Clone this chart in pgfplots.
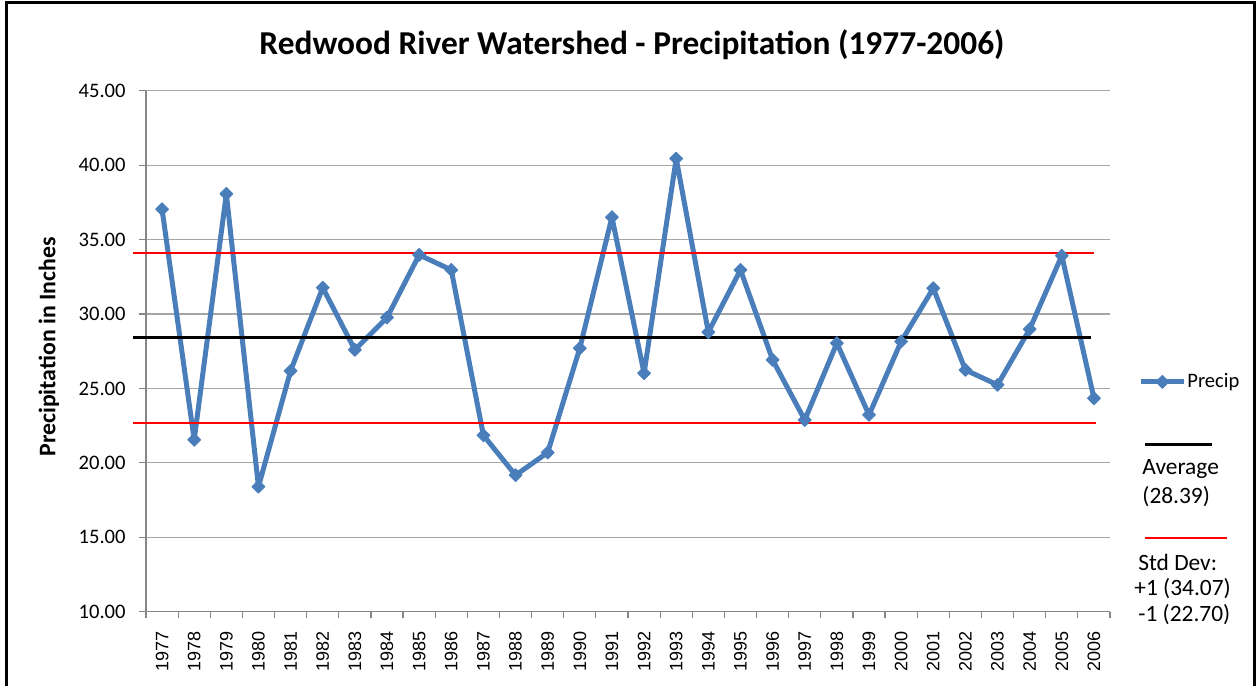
\documentclass[border=0pt]{standalone}
\usepackage{fontspec}
\setmainfont{Carlito}
\newfontfamily\arialf{Liberation Sans}
\usepackage{pgfplots}
\pgfplotsset{compat=1.18}
\definecolor{precip}{RGB}{74,126,187}
\definecolor{gridc}{RGB}{165,165,165}
\definecolor{axisc}{RGB}{134,134,134}

\begin{document}
\begin{tikzpicture}
\useasboundingbox (0,0) rectangle (628.5pt,343pt);
\begin{axis}[
  at={(73pt,37.15pt)}, anchor=south west,
  scale only axis, width=482pt, height=260.5pt,
  xmin=-0.5, xmax=29.5, ymin=10, ymax=45,
  clip=false,
  axis x line*=bottom, axis y line*=left,
  axis line style={axisc, line width=0.6pt, -},
  tick align=outside,
  ytick={10,15,...,45},
  ymajorgrids, major grid style={gridc, line width=0.6pt},
  major tick length=3.5pt, minor tick length=3pt,
  tick style={axisc, line width=0.6pt},
  every major x tick/.append style={draw=none},
  xtick={0,...,29},
  minor xtick={-0.5,0.5,...,29.5},
  xticklabels={1977,1978,1979,1980,1981,1982,1983,1984,1985,1986,1987,1988,1989,1990,1991,1992,1993,1994,1995,1996,1997,1998,1999,2000,2001,2002,2003,2004,2005,2006},
  xticklabel style={font=\arialf\fontsize{9}{10}\selectfont, rotate=90, anchor=east, xshift=-5pt, inner sep=1pt},
  yticklabel style={font=\fontsize{10.3}{12}\selectfont, anchor=east, xshift=-6.5pt, inner sep=0pt},
  /pgf/number format/.cd, fixed, fixed zerofill, precision=2, assume math mode=true,
  /pgfplots/.cd,
  legend style={at={(axis description cs:1.029,0.441)}, anchor=west, draw=none, fill=none,
    inner sep=0pt, font=\fontsize{10.3}{12}\selectfont,
    nodes={inner sep=0.5pt}},
  legend image code/.code={\draw[mark repeat=2,mark phase=2,#1] plot coordinates {(0pt,0pt) (10.75pt,0pt) (21.5pt,0pt)};},
]
\addplot[precip, line width=2.5pt, line join=round, mark=square*, mark size=2.3pt,
  mark options={solid, rotate=45, fill=precip, draw=precip, line width=0.4pt}]
  coordinates {
  (0,37.04) (1,21.55) (2,38.07) (3,18.40) (4,26.18) (5,31.77) (6,27.59) (7,29.76)
  (8,33.97) (9,32.96) (10,21.85) (11,19.17) (12,20.69) (13,27.70) (14,36.50)
  (15,26.02) (16,40.44) (17,28.78) (18,32.96) (19,26.92) (20,22.88) (21,28.04)
  (22,23.22) (23,28.15) (24,31.73) (25,26.24) (26,25.24) (27,28.98) (28,33.92)
  (29,24.34)};
\addlegendentry{Precip}
\addplot[black, line width=1.5pt, forget plot] coordinates {(-0.9,28.39) (28.9,28.39)};
\addplot[red, line width=1pt, forget plot] coordinates {(-0.9,34.07) (29.0,34.07)};
\addplot[red, line width=1pt, forget plot] coordinates {(-0.9,22.70) (29.05,22.70)};
\end{axis}
% title and y label
\node[font=\bfseries\fontsize{16.7}{20}\selectfont, inner sep=0pt] at (316pt,320.5pt)
  {Redwood River Watershed - Precipitation (1977-2006)};
\node[font=\bfseries\fontsize{11.9}{14}\selectfont, rotate=90, inner sep=0pt] at (24.5pt,169.5pt)
  {Precipitation in Inches};
% legend extras
\draw[black, line width=1.5pt] (572.5pt,121pt) -- (606pt,121pt);
\node[anchor=west, inner sep=0pt, font=\fontsize{11.7}{14}\selectfont] at (571pt,108.5pt) {Average};
\node[anchor=west, inner sep=0pt, font=\fontsize{11.7}{14}\selectfont] at (571pt,94.5pt) {(28.39)};
\draw[red, line width=1pt] (572.5pt,74pt) -- (613.5pt,74pt);
\node[anchor=west, inner sep=0pt, font=\fontsize{11.7}{14}\selectfont] at (569pt,62pt) {Std Dev:};
\node[anchor=west, inner sep=0pt, font=\fontsize{11.7}{14}\selectfont] at (567pt,48.5pt) {+1 (34.07)};
\node[anchor=west, inner sep=0pt, font=\fontsize{11.7}{14}\selectfont] at (569pt,35.5pt) {-1 (22.70)};
% outer frame
\draw[black, line width=1.7pt] (3.3pt,0pt) -- (3.3pt,341.6pt) -- (627.3pt,341.6pt) -- (627.3pt,0pt);
\end{tikzpicture}
\end{document}
